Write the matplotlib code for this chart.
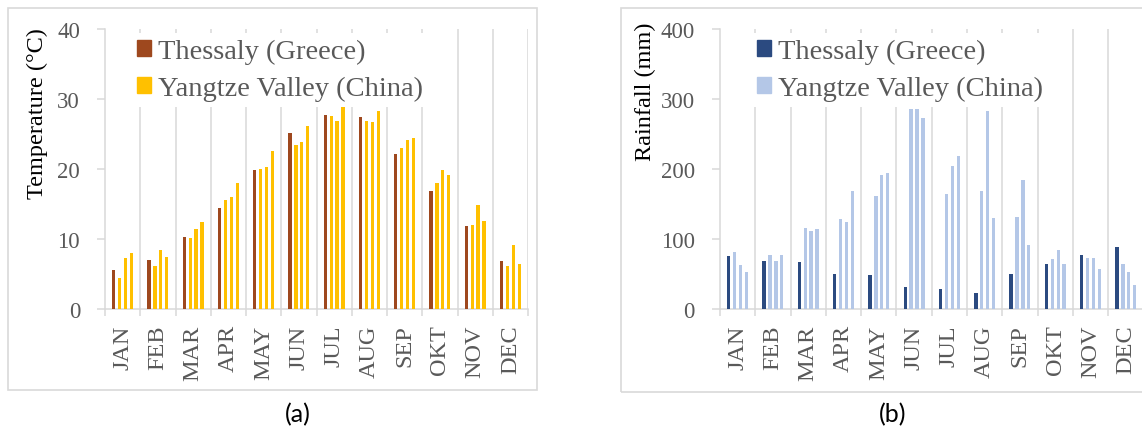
import matplotlib
matplotlib.use("Agg")
import matplotlib.pyplot as plt
import numpy as np
from matplotlib.patches import Patch, Rectangle

plt.rcParams["font.family"] = ["Liberation Serif", "DejaVu Serif"]

months = ["JAN", "FEB", "MAR", "APR", "MAY", "JUN",
          "JUL", "AUG", "SEP", "OKT", "NOV", "DEC"]

# Monthly mean temperature (°C)
thessaly_temp = [5.6, 7.0, 10.3, 14.4, 19.9, 25.1, 27.7, 27.4, 22.2, 16.9, 11.8, 6.9]
yangtze_temp_1 = [4.4, 6.2, 10.1, 15.6, 20.0, 23.5, 27.6, 26.9, 23.0, 18.0, 12.0, 6.2]
yangtze_temp_2 = [7.3, 8.5, 11.4, 16.0, 20.3, 23.9, 26.9, 26.7, 24.2, 19.8, 14.9, 9.2]
yangtze_temp_3 = [8.0, 7.4, 12.4, 18.0, 22.6, 26.1, 28.9, 28.3, 24.5, 19.1, 12.6, 6.5]

# Monthly rainfall (mm)
thessaly_rain = [76, 68, 67, 50, 48, 31, 28, 23, 50, 64, 77, 88]
yangtze_rain_1 = [81, 77, 116, 129, 161, 286, 164, 169, 131, 72, 73, 64]
yangtze_rain_2 = [63, 68, 111, 125, 191, 286, 204, 283, 184, 84, 73, 53]
yangtze_rain_3 = [53, 77, 114, 168, 194, 273, 218, 130, 92, 64, 57, 35]

GRID = "#D9D9D9"
TEXT = "#595959"


def draw_panel(ax, greece, china_sets, c_greece, c_china, ymax, step, ylabel_pos, ylabel, leg_x):
    x = np.arange(len(months))
    pitch = 0.167
    width = 0.095
    ax.bar(x - 1.5 * pitch, greece, width, color=c_greece, zorder=3)
    for i, vals in enumerate(china_sets):
        ax.bar(x + (i - 0.5) * pitch, vals, width, color=c_china, zorder=3)

    # category separators
    for b in np.arange(0.5, len(months), 1.0):
        ax.axvline(b, color=GRID, lw=1.1, zorder=1)

    ax.set_xlim(-0.5, len(months) - 0.5)
    ax.set_ylim(0, ymax)
    ax.set_yticks(np.arange(0, ymax + 1, step))
    ax.set_xticks(x)
    ax.set_xticklabels(months, rotation=90, fontsize=17.5, color=TEXT)
    ax.set_xticks(np.arange(-0.5, len(months), 1.0), minor=True)
    ax.tick_params(axis="x", which="major", length=0, pad=11)
    ax.tick_params(axis="x", which="minor", length=5, color=GRID, width=1.1)
    ax.tick_params(axis="y", length=6, color=GRID, width=1.1, pad=12,
                   labelsize=16.5, labelcolor=TEXT)
    for side in ["top", "right"]:
        ax.spines[side].set_visible(False)
    for side in ["left", "bottom"]:
        ax.spines[side].set_color(GRID)
        ax.spines[side].set_linewidth(1.1)

    fig.text(ylabel_pos[0], ylabel_pos[1], ylabel, rotation=90,
             ha="center", va="center", fontsize=17.5, color="black")

    handles = [Patch(color=c_greece), Patch(color=c_china)]
    leg = ax.legend(handles, ["Thessaly (Greece)", "Yangtze Valley (China)"],
                    loc="upper left", bbox_to_anchor=(leg_x, 0.985),
                    fontsize=20.5, frameon=True, fancybox=False,
                    handlelength=0.5, handleheight=0.5, handletextpad=0.25,
                    labelspacing=0.42, borderpad=0.2, borderaxespad=0)
    leg.get_frame().set_facecolor("white")
    leg.get_frame().set_edgecolor("none")
    leg.get_frame().set_alpha(1)
    leg.set_zorder(5)
    for t in leg.get_texts():
        t.set_color(TEXT)


fig = plt.figure(figsize=(11.42, 4.27), dpi=100)
W, H = 1142, 427

ax_a = fig.add_axes([105 / W, 117 / H, 423 / W, 280 / H])
ax_b = fig.add_axes([720 / W, 117 / H, 423.5 / W, 280 / H])

draw_panel(ax_a, thessaly_temp, [yangtze_temp_1, yangtze_temp_2, yangtze_temp_3],
           "#9E481E", "#FFC000", 40, 10, (37 / W, 1 - 114 / H),
           "Temperature (°C)", 0.062)
draw_panel(ax_b, thessaly_rain, [yangtze_rain_1, yangtze_rain_2, yangtze_rain_3],
           "#2B4A80", "#B4C7E7", 400, 100, (645 / W, 1 - 92 / H),
           "Rainfall (mm)", 0.074)

# panel frames
fig.add_artist(Rectangle((8 / W, 36 / H), 529 / W, 382 / H, transform=fig.transFigure,
                         fill=False, edgecolor=GRID, lw=1.2))
fig.add_artist(Rectangle((621 / W, 34 / H), 540 / W, 384 / H, transform=fig.transFigure,
                         fill=False, edgecolor=GRID, lw=1.2))

fig.text(298 / W, 1 - 415 / H, "(a)", ha="center", va="center",
         fontsize=18, family=["Lato", "DejaVu Sans"])
fig.text(893 / W, 1 - 415 / H, "(b)", ha="center", va="center",
         fontsize=18, family=["Lato", "DejaVu Sans"])

fig.savefig("out.png", dpi=100)
